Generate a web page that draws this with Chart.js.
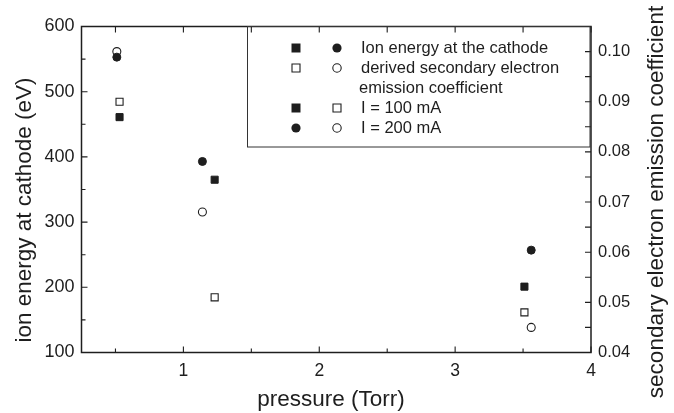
<!DOCTYPE html>
<html>
<head>
<meta charset="utf-8">
<script src="https://cdn.jsdelivr.net/npm/chart.js@4.4.1/dist/chart.umd.min.js"></script>
<style>
  body { margin: 0; background: #fff; }
  canvas { display: block; }
</style>
</head>
<body>
<canvas id="chart" width="674" height="413"></canvas>
<script>
// pressure (Torr) for each current
const pressure100 = [0.53, 1.23, 3.51];
const pressure200 = [0.51, 1.14, 3.56];
// ion energy at cathode (eV), left axis
const ionEnergy100 = [461, 365, 201];
const ionEnergy200 = [553, 393, 257];
// derived secondary electron emission coefficient, right axis
const gamma100 = [0.090, 0.051, 0.048];
const gamma200 = [0.100, 0.068, 0.045];

const xTicks = [1, 2, 3, 4];
const xMinor = [0.5, 1.5, 2.5, 3.5];
const yTicks = [100, 200, 300, 400, 500, 600];
const yMinor = [150, 250, 350, 450, 550];
const y2Ticks = [0.04, 0.05, 0.06, 0.07, 0.08, 0.09, 0.10];
const y2Minor = [0.045, 0.055, 0.065, 0.075, 0.085, 0.095];

const legendRows = [
  ['rectFill', 'circleFill', 'Ion energy at the cathode'],
  ['rectOpen', 'circleOpen', 'derived secondary electron'],
  [null, null, 'emission coefficient'],
  ['rectFill', 'rectOpen', 'I = 100 mA'],
  ['circleFill', 'circleOpen', 'I = 200 mA']
];

const ink = '#1e1e1e';
const font = 'Liberation Sans, Arial, sans-serif';

const pts = (xs, ys) => xs.map((v, i) => ({x: v, y: ys[i]}));

function marker(ctx, kind, x, y) {
  ctx.beginPath();
  if (kind.startsWith('rect')) {
    const s = kind === 'rectFill' ? 9 : 8;
    ctx.rect(x - s / 2, y - s / 2, s, s);
  } else {
    ctx.arc(x, y, kind === 'circleFill' ? 4.6 : 4.2, 0, Math.PI * 2);
  }
  if (kind.endsWith('Fill')) {
    ctx.fillStyle = ink;
    ctx.fill();
  } else {
    ctx.fillStyle = '#fff';
    ctx.fill();
    ctx.lineWidth = 1.1;
    ctx.strokeStyle = ink;
    ctx.stroke();
  }
}

function vText(ctx, text, x, y) {
  ctx.save();
  ctx.translate(x, y);
  ctx.rotate(-Math.PI / 2);
  ctx.fillText(text, 0, 0);
  ctx.restore();
}

const framePlugin = {
  id: 'frame',
  afterDraw(chart) {
    const {ctx, chartArea: a, scales: {x, y, y2}} = chart;
    ctx.save();
    ctx.strokeStyle = ink;
    ctx.lineWidth = 1.5;
    ctx.strokeRect(a.left, a.top, a.right - a.left, a.bottom - a.top);

    ctx.lineWidth = 1.1;
    ctx.beginPath();
    xTicks.concat(xMinor).forEach(v => {
      const px = x.getPixelForValue(v);
      const len = xTicks.includes(v) ? 6 : 4;
      ctx.moveTo(px, a.bottom); ctx.lineTo(px, a.bottom - len);
      ctx.moveTo(px, a.top); ctx.lineTo(px, a.top + 6);
    });
    yTicks.concat(yMinor).forEach(v => {
      const py = y.getPixelForValue(v);
      const len = yTicks.includes(v) ? 6 : 4;
      ctx.moveTo(a.left, py); ctx.lineTo(a.left + len, py);
    });
    y2Ticks.concat(y2Minor).forEach(v => {
      const py = y2.getPixelForValue(v);
      ctx.moveTo(a.right, py); ctx.lineTo(a.right - 6, py);
    });
    ctx.stroke();

    // legend box
    ctx.lineWidth = 1;
    ctx.strokeStyle = '#333';
    ctx.strokeRect(247.5, a.top, 342.5, 120.5);
    ctx.font = '16.5px ' + font;
    ctx.textBaseline = 'middle';
    ctx.textAlign = 'left';
    const rowY = [48, 68, 88, 108, 128];
    legendRows.forEach((r, i) => {
      if (r[0]) marker(ctx, r[0], 296, rowY[i]);
      if (r[1]) marker(ctx, r[1], 337, rowY[i]);
      ctx.fillStyle = ink;
      ctx.fillText(r[2], i === 2 ? 359 : 361, rowY[i]);
    });

    // axis titles
    ctx.fillStyle = ink;
    ctx.textAlign = 'center';
    ctx.font = '22.5px ' + font;
    ctx.fillText('pressure (Torr)', 331, 400);
    vText(ctx, 'ion energy at cathode (eV)', 25, 210);
    vText(ctx, 'secondary electron emission coefficient', 657, 202);
    ctx.restore();
  }
};

new Chart(document.getElementById('chart'), {
  type: 'scatter',
  data: {
    datasets: [
      {label: 'E 200', data: pts(pressure200, ionEnergy200), yAxisID: 'y',
       pointStyle: 'circle', pointRadius: 4, backgroundColor: ink, borderColor: ink, borderWidth: 1},
      {label: 'E 100', data: pts(pressure100, ionEnergy100), yAxisID: 'y',
       pointStyle: 'rect', pointRadius: 5, backgroundColor: ink, borderColor: ink, borderWidth: 1},
      {label: 'g 200', data: pts(pressure200, gamma200), yAxisID: 'y2',
       pointStyle: 'circle', pointRadius: 4, backgroundColor: '#fff', borderColor: ink, borderWidth: 1.1},
      {label: 'g 100', data: pts(pressure100, gamma100), yAxisID: 'y2',
       pointStyle: 'rect', pointRadius: 5, backgroundColor: '#fff', borderColor: ink, borderWidth: 1.1}
    ]
  },
  options: {
    responsive: false,
    animation: false,
    devicePixelRatio: 1,
    layout: {padding: {top: 26.5, left: 0, right: 0, bottom: 0}},
    plugins: {legend: {display: false}, tooltip: {enabled: false}},
    scales: {
      x: {
        type: 'linear', position: 'bottom', min: 0.25, max: 4,
        grid: {display: false, drawTicks: false},
        border: {display: false},
        afterBuildTicks: s => { s.ticks = xTicks.map(v => ({value: v})); },
        afterFit: s => { s.height = 60.5; },
        ticks: {padding: 8, color: ink, font: {family: font, size: 17.5}}
      },
      y: {
        type: 'linear', position: 'left', min: 100, max: 600,
        grid: {display: false, drawTicks: false},
        border: {display: false},
        afterBuildTicks: s => { s.ticks = yTicks.map(v => ({value: v})); },
        afterFit: s => { s.width = 81.5; },
        ticks: {padding: 7, color: ink, font: {family: font, size: 18}}
      },
      y2: {
        type: 'linear', position: 'right', min: 0.04, max: 0.105,
        grid: {display: false, drawTicks: false},
        border: {display: false},
        afterBuildTicks: s => { s.ticks = y2Ticks.map(v => ({value: v})); },
        afterFit: s => { s.width = 83; },
        ticks: {padding: 7, color: ink, font: {family: font, size: 16.5},
                callback: v => v.toFixed(2)}
      }
    }
  },
  plugins: [framePlugin]
});
</script>
</body>
</html>
